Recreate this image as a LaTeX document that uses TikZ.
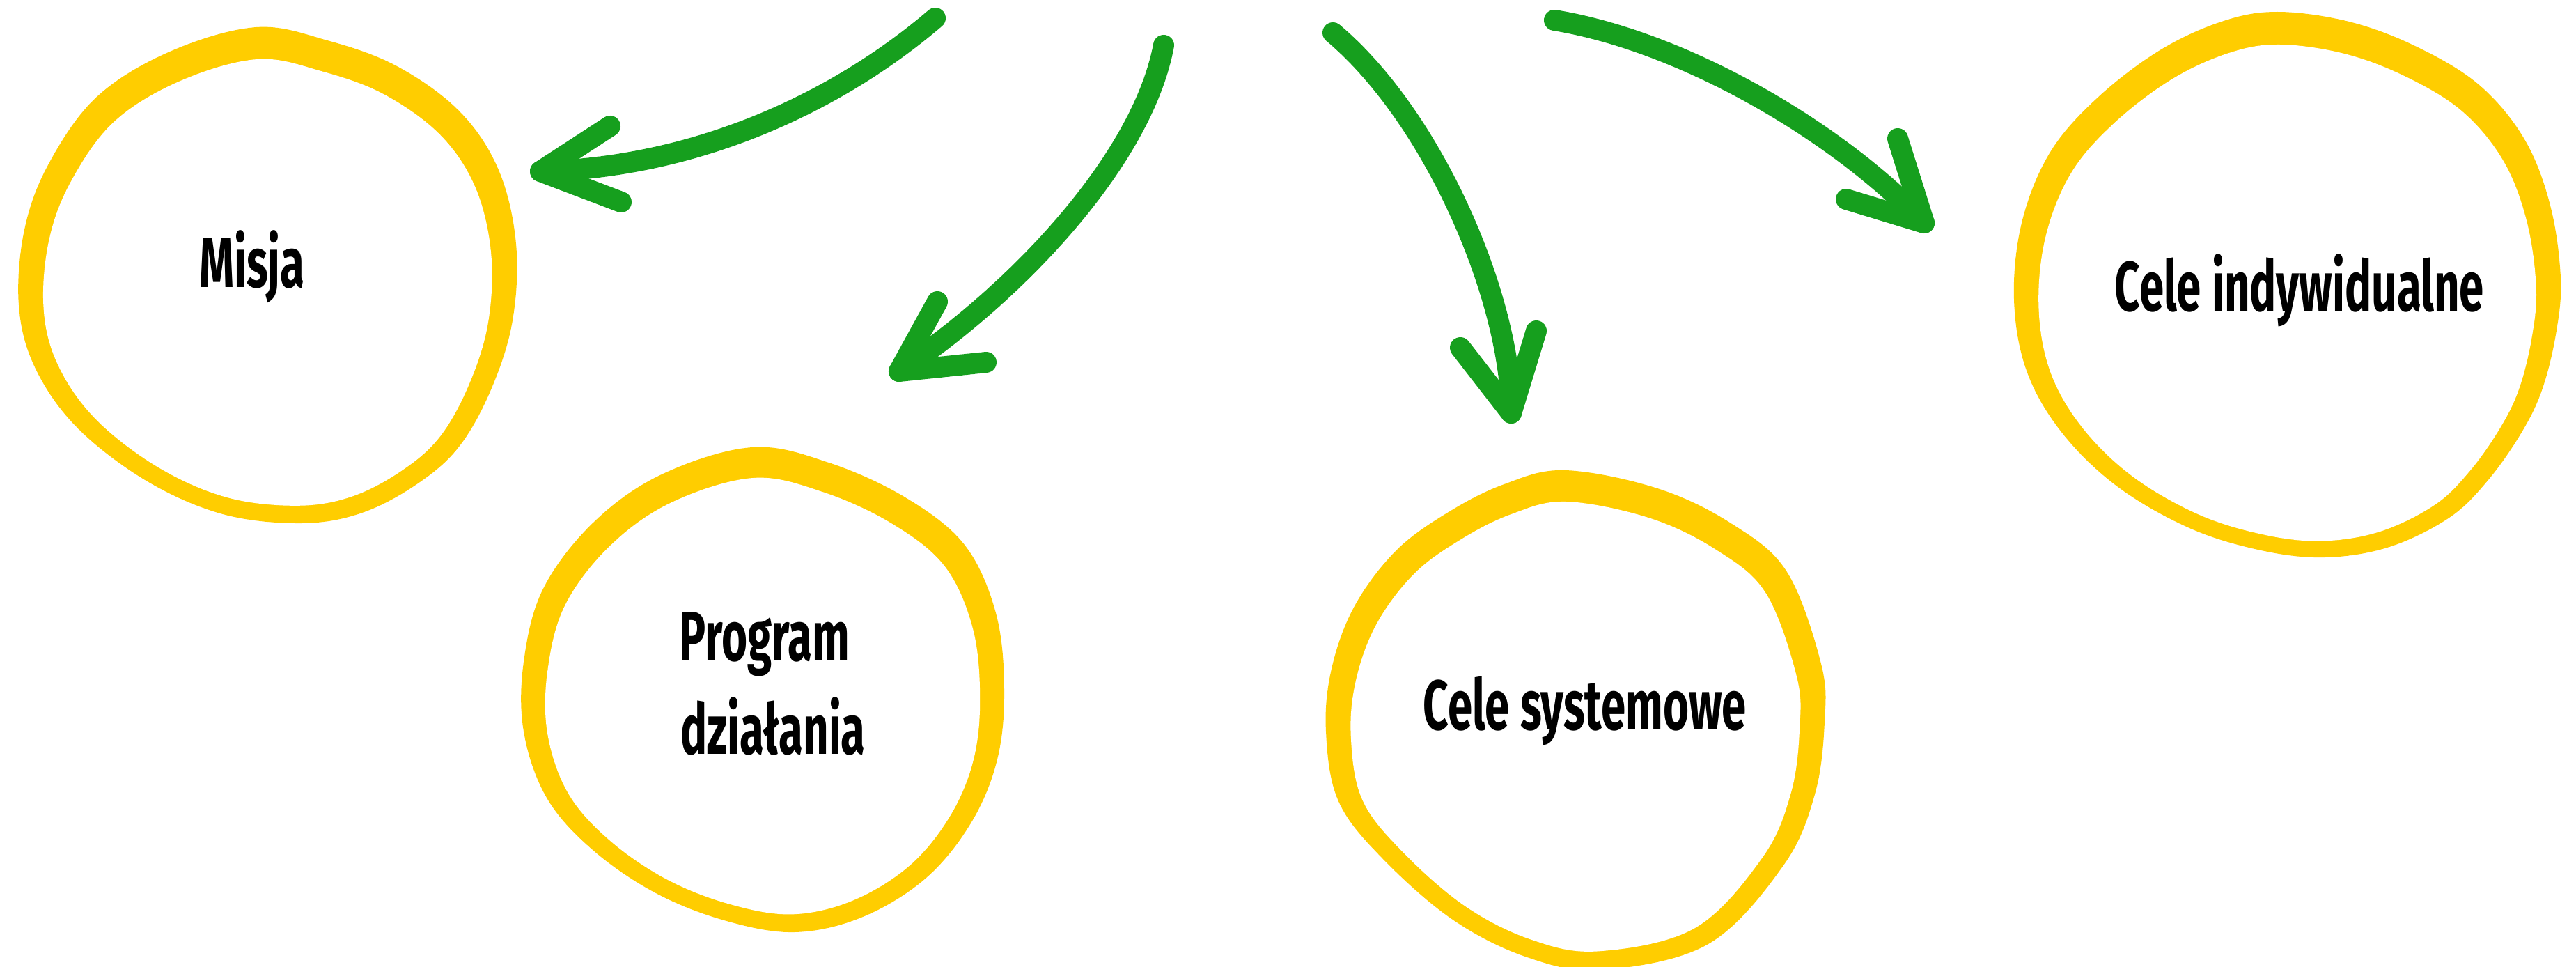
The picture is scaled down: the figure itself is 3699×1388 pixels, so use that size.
\documentclass[tikz,border=0pt]{standalone}
\usepackage{fontspec}
\newfontfamily\labfont{Fira Sans}[FakeStretch=0.63]
\definecolor{ringyellow}{RGB}{255,205,0}
\definecolor{arrowgreen}{RGB}{22,159,30}
\tikzset{
  ringout/.style={fill=ringyellow},
  ringin/.style={fill=white},
  arrowline/.style={draw=arrowgreen, line width=30pt, line cap=round, line join=round},
  label/.style={inner sep=0pt, anchor=base, font=\labfont\bfseries\fontsize{101}{120}\selectfont, text=black}
}
% #1 outline points, #2,#3 centre of the inner scaling, #4 inner scale
\newcommand\yellowring[4]{%
  \fill[ringout] plot[smooth cycle, tension=0.6] coordinates {#1};
  \begin{scope}[shift={(#2,#3)}, scale=#4, shift={(-#2,-#3)}]
    \fill[ringin] plot[smooth cycle, tension=0.6] coordinates {#1};
  \end{scope}}
\begin{document}
\begin{tikzpicture}[x=1pt,y=-1pt]
\useasboundingbox[fill=white] (0,0) rectangle (3699,1388);

% Circle 1 (Misja)
\yellowring{(368,39) (470,58) (570,95) (660,160) (716,244) (741,350) (736,460) (706,557) (660,640) (600,694) (520,736) (433,751) (320,738) (210,690) (110,613) (50,527) (27,438) (35,330) (70,235) (139,139) (244,74)}{384}{499}{0.9}
% Circle 2 (Program dzialania)
\yellowring{(1080,642) (1190,664) (1300,714) (1385,782) (1430,880) (1442,990) (1432,1090) (1395,1180) (1330,1260) (1239,1316) (1141,1338) (1040,1321) (940,1281) (850,1219) (785,1145) (752,1050) (752,950) (780,845) (852,750) (950,681)}{1094}{1082}{0.9}
% Circle 3 (Cele systemowe)
\yellowring{(2247,675) (2380,701) (2487,752) (2566,821) (2615,953) (2620,1036) (2606,1140) (2561,1242) (2453,1355) (2300,1392) (2193,1374) (2086,1320) (1985,1232) (1922,1150) (1904,1050) (1912,960) (1945,870) (2005,790) (2080,735) (2160,695)}{2262}{1125}{0.9}
% Circle 4 (Cele indywidualne)
\yellowring{(3270,17) (3373,31) (3470,67) (3560,122) (3625,200) (3662,295) (3677,400) (3670,480) (3650,560) (3620,622) (3572,690) (3517,743) (3431,785) (3339,800) (3247,790) (3144,758) (3040,698) (2960,620) (2910,532) (2892,430) (2903,320) (2943,220) (3010,142) (3100,73) (3190,31)}{3285}{539}{0.91}

% Labels
\node[label] (misja) at (362,412) {Misja};
\node[label] (prog1) at (1098,948) {Program};
\node[label] (prog2) at (1110,1082) {działania};
\node[label] (sys) at (2276,1047) {Cele systemowe};
\node[label] (ind) at (3302,446) {Cele indywidualne};

% Arrow 1 -> Misja
\coordinate (a1s) at (1343,26);
\coordinate (a1t) at (776,246);
\coordinate (a1b1) at (876,181);
\coordinate (a1b2) at (892,290);
\draw[arrowline] (a1s) .. controls (1210,140) and (1010,240) .. (a1t);
\draw[arrowline] (a1b1) -- (a1t) -- (a1b2);

% Arrow 2 -> Program
\coordinate (a2s) at (1671,65);
\coordinate (a2t) at (1291,533);
\coordinate (a2b1) at (1346,433);
\coordinate (a2b2) at (1416,520);
\draw[arrowline] (a2s) .. controls (1640,230) and (1460,420) .. (a2t);
\draw[arrowline] (a2b1) -- (a2t) -- (a2b2);

% Arrow 3 -> Cele systemowe
\coordinate (a3s) at (1914,47);
\coordinate (a3t) at (2170,593);
\coordinate (a3b1) at (2097,499);
\coordinate (a3b2) at (2206,475);
\draw[arrowline] (a3s) .. controls (2060,170) and (2170,430) .. (a3t);
\draw[arrowline] (a3b1) -- (a3t) -- (a3b2);

% Arrow 4 -> Cele indywidualne
\coordinate (a4s) at (2232,29);
\coordinate (a4t) at (2763,320);
\coordinate (a4b1) at (2725,199);
\coordinate (a4b2) at (2651,286);
\draw[arrowline] (a4s) .. controls (2420,60) and (2640,190) .. (a4t);
\draw[arrowline] (a4b1) -- (a4t) -- (a4b2);
\end{tikzpicture}
\end{document}
